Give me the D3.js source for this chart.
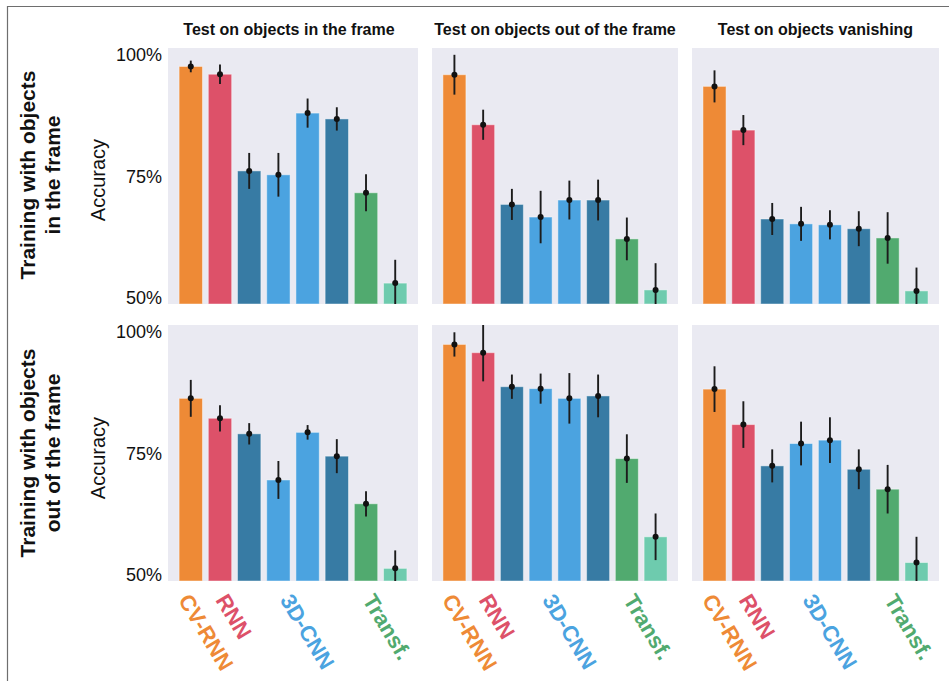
<!DOCTYPE html>
<html>
<head>
<meta charset="utf-8">
<script src="https://cdn.jsdelivr.net/npm/d3@7"></script>
<style>
  html, body { margin: 0; padding: 0; background: #ffffff; }
  svg { display: block; font-family: "Liberation Sans", Arial, Helvetica, sans-serif; }
</style>
</head>
<body>
<svg id="chart" width="949" height="681"></svg>
<script>
// ---------------- DATA ----------------
const models = ["CV-RNN", "RNN", "3D-CNN a", "3D-CNN b", "3D-CNN c", "3D-CNN d", "Transf. a", "Transf. b"];
const modelColors = ["#EE8A36", "#DD5169", "#377BA4", "#4BA3E0", "#4BA3E0", "#377BA4", "#51AA6F", "#6ECBAE"];

const columnTitles = ["Test on objects in the frame", "Test on objects out of the frame", "Test on objects vanishing"];
const rowTitles = [["Training with objects", "in the frame"], ["Training with objects", "out of the frame"]];
const yLabel = "Accuracy";
const yTicks = [50, 75, 100];
const yTickLabels = ["50%", "75%", "100%"];

// x-axis group labels: text, colour, and the bar index they sit under
const groupLabels = ["CV-RNN", "RNN", "3D-CNN", "Transf."];
const groupLabelColors = ["#EE8A36", "#DD5169", "#4BA3E0", "#51AA6F"];
const groupLabelAt = [0, 1, 3, 6];

// accuracy (%) per panel [row][col], one value per model
const accInFrame_testIn   = [97.6, 96.0, 76.1, 75.3, 88.0, 86.8, 71.6, 53.0];
const accInFrame_testOut  = [95.9, 85.6, 69.2, 66.6, 70.1, 70.1, 62.1, 51.6];
const accInFrame_testVan  = [93.5, 84.5, 66.2, 65.2, 65.0, 64.2, 62.3, 51.4];
const accOutFrame_testIn  = [86.3, 82.2, 79.0, 69.5, 79.3, 74.4, 64.6, 51.3];
const accOutFrame_testOut = [97.4, 95.7, 88.7, 88.3, 86.3, 86.8, 73.9, 57.8];
const accOutFrame_testVan = [88.2, 80.9, 72.4, 77.0, 77.7, 71.7, 67.6, 52.5];

// error half-widths (%)
const errInFrame_testIn   = [1.2, 2.0, 3.7, 4.5, 3.0, 2.4, 3.8, 4.8];
const errInFrame_testOut  = [4.1, 3.1, 3.2, 5.4, 4.0, 4.2, 4.4, 5.5];
const errInFrame_testVan  = [3.3, 3.1, 3.3, 3.5, 3.0, 3.6, 5.3, 4.8];
const errOutFrame_testIn  = [3.8, 2.7, 2.2, 3.9, 1.5, 3.5, 2.6, 3.7];
const errOutFrame_testOut = [2.5, 5.9, 2.5, 3.1, 5.2, 4.4, 5.0, 4.8];
const errOutFrame_testVan = [4.7, 4.8, 3.4, 4.5, 4.7, 4.1, 5.0, 5.3];

const accuracy = [
  [accInFrame_testIn, accInFrame_testOut, accInFrame_testVan],
  [accOutFrame_testIn, accOutFrame_testOut, accOutFrame_testVan]
];
const errors = [
  [errInFrame_testIn, errInFrame_testOut, errInFrame_testVan],
  [errOutFrame_testIn, errOutFrame_testOut, errOutFrame_testVan]
];

// ---------------- LAYOUT ----------------
const colX = [168, 432, 692];
const colW = [250, 246, 247];
const rowY = [48, 325];
const panelH = 256;
const yDomain = [48.7, 101.4];
const labelDx = [-13, -5, 1, -4];

const svg = d3.select("#chart");

// frame lines (top and left)
svg.append("line").attr("x1", 7.5).attr("x2", 949).attr("y1", 6.5).attr("y2", 6.5)
  .attr("stroke", "#6e6e6e").attr("stroke-width", 1.2);
svg.append("line").attr("x1", 7.5).attr("x2", 7.5).attr("y1", 6).attr("y2", 681)
  .attr("stroke", "#6e6e6e").attr("stroke-width", 1.2);

// column titles
columnTitles.forEach((t, c) => {
  svg.append("text")
    .attr("x", colX[c] + colW[c] / 2 - (c === 0 ? 4 : 0))
    .attr("y", 35)
    .attr("text-anchor", "middle")
    .attr("font-size", 16)
    .attr("font-weight", "bold")
    .attr("fill", "#111")
    .text(t);
});

rowTitles.forEach((lines, r) => {
  const cy = rowY[r] + (r === 0 ? 127 : 128);
  lines.forEach((ln, i) => {
    svg.append("text")
      .attr("transform", `translate(${34.5 + i * 25},${cy}) rotate(-90)`)
      .attr("text-anchor", "middle")
      .attr("font-size", 21)
      .attr("font-weight", "bold")
      .attr("fill", "#111")
      .text(ln);
  });
  svg.append("text")
    .attr("transform", `translate(105,${rowY[r] + (r === 0 ? 132 : 133)}) rotate(-90)`)
    .attr("text-anchor", "middle")
    .attr("font-size", 20)
    .attr("fill", "#111")
    .text(yLabel);
});

for (let r = 0; r < 2; r++) {
  for (let c = 0; c < 3; c++) {
    const x = d3.scaleBand().domain(models)
      .range([colX[c], colX[c] + colW[c]])
      .paddingInner(0.2).paddingOuter(0.38);
    const y = d3.scaleLinear().domain(yDomain).range([rowY[r] + panelH, rowY[r]]);

    const g = svg.append("g");
    const clipId = `clip-${r}-${c}`;
    g.append("clipPath").attr("id", clipId).append("rect")
      .attr("x", colX[c]).attr("y", rowY[r]).attr("width", colW[c]).attr("height", panelH);

    g.append("rect")
      .attr("x", colX[c]).attr("y", rowY[r])
      .attr("width", colW[c]).attr("height", panelH)
      .attr("fill", "#EAEAF2");

    const vals = accuracy[r][c];
    const errs = errors[r][c];
    const data = models.map((m, i) => ({ m, v: vals[i], e: errs[i], col: modelColors[i] }));

    g.selectAll("rect.bar").data(data).enter().append("rect")
      .attr("class", "bar")
      .attr("x", d => x(d.m))
      .attr("width", x.bandwidth())
      .attr("y", d => y(d.v))
      .attr("height", d => y(yDomain[0]) - y(d.v))
      .attr("fill", d => d.col)
      .attr("stroke", "rgba(255,255,255,0.45)")
      .attr("stroke-width", 1);

    const eg = g.append("g").attr("clip-path", `url(#${clipId})`);
    eg.selectAll("line.err").data(data).enter().append("line")
      .attr("x1", d => x(d.m) + x.bandwidth() / 2)
      .attr("x2", d => x(d.m) + x.bandwidth() / 2)
      .attr("y1", d => y(d.v - d.e))
      .attr("y2", d => y(d.v + d.e))
      .attr("stroke", "#1c1c1c")
      .attr("stroke-width", 1.9);
    eg.selectAll("circle.pt").data(data).enter().append("circle")
      .attr("cx", d => x(d.m) + x.bandwidth() / 2)
      .attr("cy", d => y(d.v))
      .attr("r", 3)
      .attr("fill", "#111");

    if (c === 0) {
      const ax = d3.axisLeft(y).tickValues(yTicks)
        .tickFormat((d, i) => yTickLabels[i]).tickSize(0).tickPadding(6);
      const axG = svg.append("g").attr("transform", `translate(${colX[c]},0)`).call(ax);
      axG.select(".domain").remove();
      axG.selectAll("text")
        .attr("font-size", 18)
        .attr("fill", "#111")
        .attr("font-family", "'Liberation Sans', Arial, sans-serif");
    }

    if (r === 1) {
      groupLabels.forEach((t, i) => {
        const bx = x(models[groupLabelAt[i]]) + x.bandwidth() / 2 + labelDx[i];
        svg.append("text")
          .attr("transform", `translate(${bx},${rowY[r] + panelH + 19}) rotate(59)`)
          .attr("text-anchor", "start")
          .attr("font-size", 22)
          .attr("font-weight", "bold")
          .attr("fill", groupLabelColors[i])
          .text(t);
      });
    }
  }
}
</script>
</body>
</html>
